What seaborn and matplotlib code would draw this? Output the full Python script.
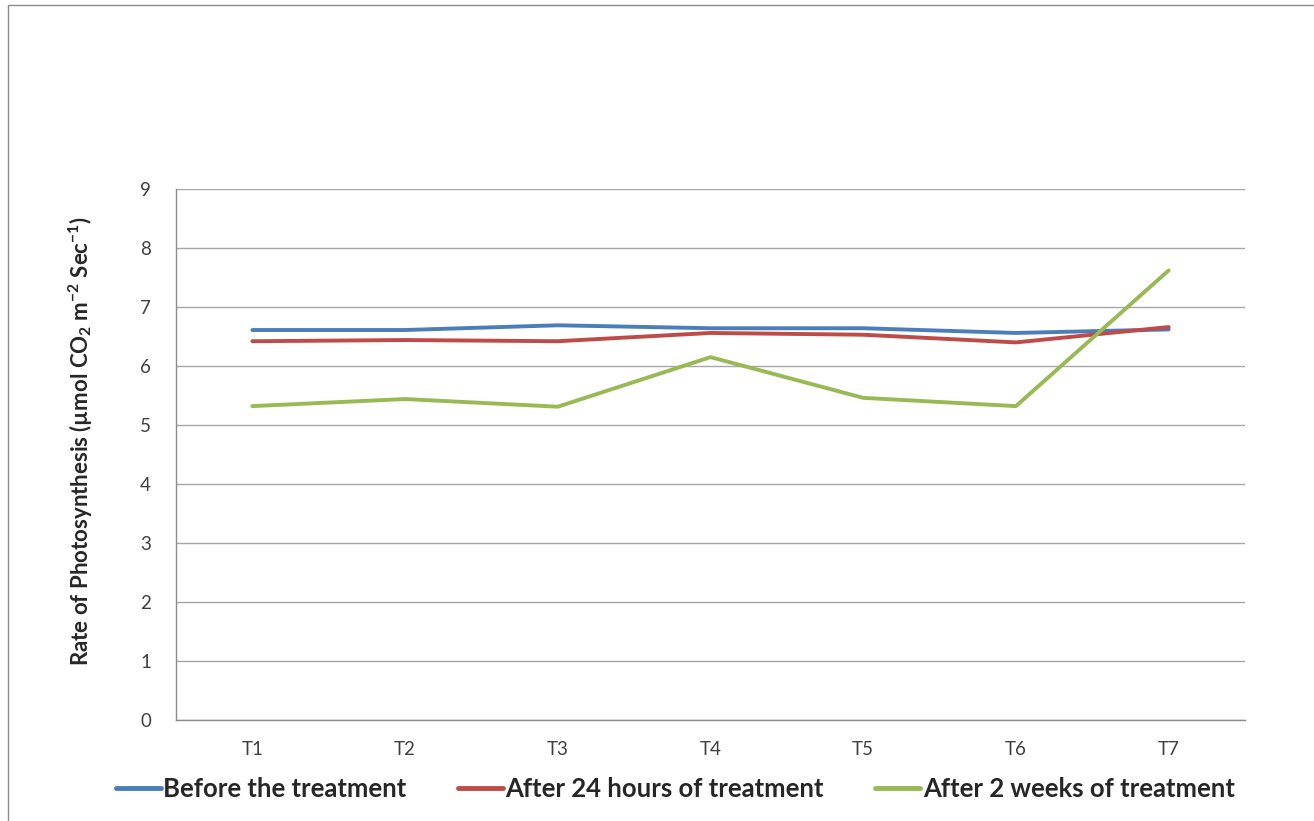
import matplotlib
matplotlib.use("Agg")
import matplotlib.pyplot as plt
import seaborn as sns
import pandas as pd
from matplotlib.patches import Rectangle

times = ["T1", "T2", "T3", "T4", "T5", "T6", "T7"]
before = [6.61, 6.61, 6.69, 6.64, 6.64, 6.56, 6.62]
after_24h = [6.42, 6.44, 6.42, 6.56, 6.53, 6.40, 6.66]
after_2wk = [5.32, 5.44, 5.31, 6.15, 5.46, 5.32, 7.62]
series_names = ["Before the treatment", "After 24 hours of treatment", "After 2 weeks of treatment"]
colors = ["#4A7EBB", "#BE4B48", "#98B954"]

df = pd.DataFrame({
    "time": times * 3,
    "rate": before + after_24h + after_2wk,
    "series": [s for s in series_names for _ in times],
})

sns.set_style("white")
plt.rcParams["font.family"] = ["Lato", "DejaVu Sans"]
plt.rcParams["mathtext.fontset"] = "custom"
plt.rcParams["mathtext.rm"] = "Lato:bold"
plt.rcParams["mathtext.it"] = "Lato:bold"
plt.rcParams["mathtext.bf"] = "Lato:bold"

fig = plt.figure(figsize=(13.14, 8.21), dpi=100)
ax = fig.add_axes([176 / 1314, 1 - 720 / 821, (1245 - 176) / 1314, (720 - 189) / 821])

sns.lineplot(data=df, x="time", y="rate", hue="series", palette=colors,
             linewidth=2.8, sort=False, ax=ax)

ax.set_xlim(-0.5, 6.5)
ax.set_ylim(0, 9)
ax.set_yticks(range(0, 10))
ax.yaxis.grid(True, color="#A6A6A6", linewidth=1)
ax.xaxis.grid(False)
for side in ["top", "right"]:
    ax.spines[side].set_visible(False)
for side in ["left", "bottom"]:
    ax.spines[side].set_color("#8C8C8C")
    ax.spines[side].set_linewidth(1)
ax.tick_params(axis="both", labelsize=13.5, colors="#404040", length=0)
ax.tick_params(axis="y", pad=18)
ax.tick_params(axis="x", pad=15)
ax.set_xlabel("")
ax.set_ylabel(r"Rate of Photosynthesis (µmol CO$_2$ m$^{-2}$ Sec$^{-1}$)",
              fontsize=16, fontweight="bold")
ax.yaxis.set_label_coords(-0.076, 0.525)

handles, labels = ax.get_legend_handles_labels()
for h in handles:
    h.set_linewidth(3.5)
ax.legend(handles, labels, loc="center", bbox_to_anchor=(0.467, -0.13), ncol=3,
          frameon=False, prop={"weight": "bold", "size": 18.5}, handlelength=1.75,
          handletextpad=0.1, columnspacing=2.0)

fig.add_artist(Rectangle((8 / 1314, -0.01), 1.0, 1 - 5 / 821 + 0.01, transform=fig.transFigure,
                         fill=False, edgecolor="#8C8C8C", linewidth=1))

fig.savefig("out.png", dpi=100)
